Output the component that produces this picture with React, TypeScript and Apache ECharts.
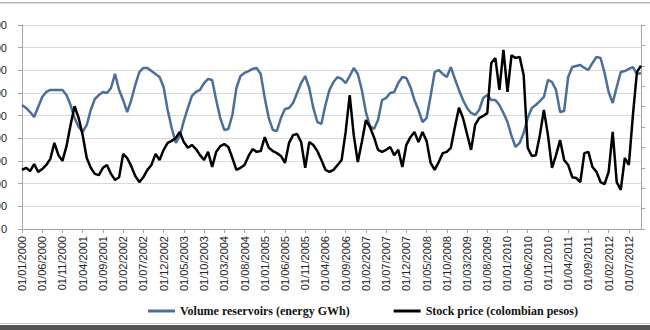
import React, { useEffect, useRef } from "react";
import * as echarts from "echarts";

// Monthly categories: 01/01/2000 ... 01/10/2012
const START_YEAR = 2000;
const MONTH_COUNT = 154;
const categories: string[] = [];
for (let k = 0; k < MONTH_COUNT; k++) {
  const y = START_YEAR + Math.floor(k / 12);
  const m = (k % 12) + 1;
  categories.push(`01/${String(m).padStart(2, "0")}/${y}`);
}

const seriesNames = ["Volume reservoirs (energy GWh)", "Stock price (colombian pesos)"];

// Volume reservoirs (energy GWh) - left axis
const reservoirVolume: number[] = [
  10940, 10680, 10320, 9880, 10770, 11650, 12090, 12270, 12270, 12270,
  12270, 11820, 10940, 9790, 9000, 8560, 9180, 10500, 11470, 11820,
  12090, 12000, 12440, 13680, 12270, 11380, 10320, 11380, 12710, 13850,
  14210, 14210, 13940, 13680, 13410, 12530, 10500, 8910, 7590, 8210,
  9540, 10680, 11740, 12090, 12270, 12880, 13240, 13150, 11380, 9790,
  8740, 8820, 10060, 12440, 13500, 13770, 13940, 14120, 14210, 13680,
  11560, 9790, 8740, 8650, 9790, 10590, 10680, 11120, 12000, 12880,
  13500, 12440, 10680, 9440, 9270, 10940, 12270, 12970, 13410, 13240,
  12880, 13500, 14210, 13680, 12270, 10320, 9090, 8820, 9620, 11380,
  11560, 12000, 12090, 12880, 13410, 13320, 12530, 11380, 10500, 9440,
  9790, 11740, 13850, 14030, 13680, 13410, 14290, 13240, 12270, 11380,
  10680, 10240, 10060, 10500, 11560, 11820, 11380, 11380, 10940, 10240,
  9440, 8210, 7240, 7590, 8470, 9790, 10680, 10940, 11290, 11650,
  13150, 12970, 12270, 10320, 10410, 13410, 14290, 14380, 14470, 14210,
  14030, 14650, 15180, 15090, 13770, 12090, 11120, 12530, 13850, 13940,
  14120, 14290, 13680, 13770,
];

// Stock price (colombian pesos) - right axis
const stockPrice: number[] = [
  1450, 1500, 1420, 1590, 1400, 1470, 1570, 1720, 2110, 1810,
  1670, 2030, 2550, 3010, 2720, 2300, 1740, 1500, 1350, 1320,
  1500, 1570, 1350, 1200, 1270, 1840, 1740, 1540, 1300, 1150,
  1270, 1450, 1570, 1840, 1690, 1940, 2110, 2160, 2230, 2380,
  2130, 1990, 2060, 1960, 1810, 1690, 1890, 1520, 1890, 2030,
  2080, 2010, 1740, 1450, 1500, 1570, 1790, 1960, 1890, 1910,
  2250, 1990, 1910, 1860, 1790, 1620, 2110, 2300, 2330, 2130,
  1500, 2130, 2060, 1910, 1690, 1450, 1400, 1450, 1570, 1690,
  2380, 3280, 2300, 1640, 2130, 2670, 2500, 2250, 1940, 1890,
  1940, 2010, 1810, 1940, 1520, 2060, 2250, 2380, 2130, 2380,
  2160, 1620, 1450, 1640, 1860, 1890, 1990, 2500, 2970, 2720,
  2330, 1940, 2550, 2720, 2770, 2840, 4070, 4190, 3410, 4390,
  3360, 4260, 4190, 4220, 3770, 1990, 1790, 1810, 2300, 2920,
  2300, 1500, 1810, 2180, 1690, 1570, 1270, 1250, 1150, 1860,
  1890, 1520, 1400, 1150, 1100, 1400, 2380, 1150, 960, 1740,
  1570, 2790, 3850, 4000,
];

const leftTicks = { min: 0, max: 18000, interval: 2000 };
const rightTicks = { min: 0, max: 5000, interval: 500 };

const BLUE = "#4a6f9a";
const AXIS_GRAY = "#a6a6a6";
const GRID_GRAY = "#d9d9d9";

export default function App() {
  const ref = useRef<HTMLDivElement>(null);

  useEffect(() => {
    if (!ref.current) return;
    const chart = echarts.init(ref.current, undefined, { renderer: "svg" });
    chart.setOption({
      animation: false,
      backgroundColor: "#ffffff",
      textStyle: { fontFamily: "Liberation Sans" },
      grid: {
        left: 22,
        right: 9,
        top: 25,
        bottom: 101,
        containLabel: false,
        outerBoundsMode: "none",
      },
      legend: {
        left: 148,
        top: 305,
        padding: 0,
        icon: "rect",
        itemWidth: 27,
        itemHeight: 3,
        itemGap: 44,
        data: seriesNames,
        textStyle: {
          fontFamily: "Liberation Serif",
          fontWeight: "bold",
          fontSize: 12,
          color: "#111",
        },
      },
      xAxis: {
        type: "category",
        data: categories,
        boundaryGap: false,
        axisLine: { lineStyle: { color: AXIS_GRAY, width: 1 } },
        axisTick: { interval: 4, length: 4, lineStyle: { color: AXIS_GRAY } },
        axisLabel: {
          interval: 4,
          rotate: 90,
          fontSize: 11,
          color: "#222",
          margin: 7,
          fontFamily: "Liberation Sans",
          hideOverlap: false,
        },
        splitLine: { show: false },
      },
      yAxis: [
        {
          type: "value",
          position: "left",
          min: leftTicks.min,
          max: leftTicks.max,
          interval: leftTicks.interval,
          axisLine: { show: true, lineStyle: { color: AXIS_GRAY } },
          axisTick: { show: true, length: 4, lineStyle: { color: AXIS_GRAY } },
          axisLabel: { fontSize: 11, color: "#222", margin: 15, fontFamily: "Liberation Sans" },
          splitLine: { show: true, lineStyle: { color: GRID_GRAY, width: 1 } },
        },
        {
          type: "value",
          position: "right",
          min: rightTicks.min,
          max: rightTicks.max,
          interval: rightTicks.interval,
          axisLine: { show: true, lineStyle: { color: AXIS_GRAY } },
          axisTick: { show: true, length: 4, lineStyle: { color: AXIS_GRAY } },
          axisLabel: { show: false },
          splitLine: { show: false },
        },
      ],
      series: [
        {
          name: seriesNames[0],
          type: "line",
          yAxisIndex: 0,
          data: reservoirVolume,
          symbol: "none",
          lineStyle: { color: BLUE, width: 2.5 },
          itemStyle: { color: BLUE },
        },
        {
          name: seriesNames[1],
          type: "line",
          yAxisIndex: 1,
          data: stockPrice,
          symbol: "none",
          lineStyle: { color: "#000000", width: 2.5 },
          itemStyle: { color: "#000000" },
        },
      ],
      graphic: [
        { type: "rect", left: 0, top: 2, shape: { width: 650, height: 1.5 }, style: { fill: "#b5b5b5" }, silent: true },
        { type: "rect", left: 0, top: 323, shape: { width: 650, height: 1 }, style: { fill: "#c8c8c8" }, silent: true },
        { type: "rect", left: 0, top: 325, shape: { width: 650, height: 5 }, style: { fill: "#555555" }, silent: true },
      ],
    });
    return () => chart.dispose();
  }, []);

  return (
    <div
      ref={ref}
      style={{ position: "fixed", left: 0, top: 0, width: 650, height: 330, background: "#fff" }}
    />
  );
}
